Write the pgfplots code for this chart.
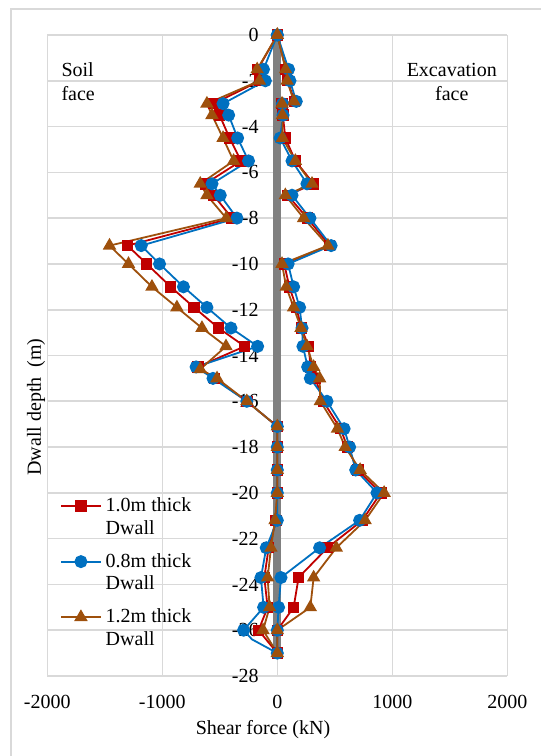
\documentclass[border=0pt]{standalone}
\usepackage{fontspec}
\setmainfont{Liberation Serif}
\usepackage{pgfplots}
\pgfplotsset{compat=1.18}
\definecolor{cred}{RGB}{192,0,0}
\definecolor{cblue}{RGB}{0,112,192}
\definecolor{cbrown}{RGB}{158,80,12}
\definecolor{cgrid}{RGB}{217,217,217}
\definecolor{cwall}{RGB}{128,128,128}
\begin{document}
\begin{tikzpicture}
\useasboundingbox (-23.65pt,-40pt) rectangle (246.85pt,338pt);
\draw[cgrid, line width=0.6pt] (-18.15pt,-60pt) -- (-18.15pt,333.5pt) -- (280pt,333.5pt);
\begin{axis}[
 at={(0,0)}, anchor=south west,
 scale only axis, width=230pt, height=320.5pt,
 xmin=-2000, xmax=2000, ymin=-28, ymax=0,
 xtick={-2000,-1000,0,1000,2000}, ytick={-28,-26,...,0},
 grid=major, grid style={cgrid, line width=0.8pt},
 axis line style={draw=none}, major tick length=0pt,
 tick label style={font=\fontsize{10}{12}\selectfont},
 /pgf/number format/assume math mode=true,
 /pgf/number format/1000 sep={},
 xticklabel style={yshift=-6pt},
 yticklabel style={anchor=east, xshift=109.2pt},
 label style={font=\fontsize{10}{12}\selectfont},
 xlabel={Shear force (kN)},
 xlabel style={at={(axis description cs:0.469,-0.0842)}, anchor=center},
 ylabel={Dwall depth~ (m)},
 ylabel style={at={(axis description cs:-0.0246,0.4197)}, anchor=center},
 legend cell align=left,
 legend style={at={(axis description cs:0.027,0.285)}, anchor=north west, draw=none, fill=none,
   font=\fontsize{10}{11.3}\selectfont, row sep=4pt, inner sep=0pt,
   cells={align=left, inner xsep=1pt}},
 legend image code/.code={\draw[#1] (0cm,5.65pt) -- (0.7cm,5.65pt); \draw[#1] plot coordinates {(0.35cm,5.65pt)};},
]
\addplot[cwall, line width=4pt, forget plot] coordinates {(0,0) (0,-27)};

\addplot[cred, line width=0.9pt, mark=square*, mark size=2.4pt, mark options={solid, fill=cred}] coordinates {
(0,0) (-170,-1.5) (-150,-2) (-554,-3) (-502,-3.5) (-415,-4.5) (-316,-5.5) (-626,-6.5) (-554,-7) (-394,-8)
(-1302,-9.2) (-1135,-10) (-927,-11) (-724,-11.9) (-511,-12.8) (-284,-13.6) (-690,-14.5) (-545,-15) (-265,-16)
(0,-17.1) (0,-18) (0,-19) (0,-20) (-10,-21.2) (-75,-22.4) (-113,-23.7) (-84,-25) (-163,-26) (0,-27)
(0,-26) (142,-25) (185,-23.7) (436,-22.4) (740,-21.2) (900,-20) (700,-19) (610,-18) (550,-17.2) (400,-16)
(330,-15) (290,-14.5) (272,-13.6) (210,-12.8) (165,-11.9) (105,-11) (60,-10) (455,-9.2) (261,-8) (90,-7)
(316,-6.5) (157,-5.5) (70,-4.5) (48,-3.5) (42,-3.0) (152,-2.9) (88,-2) (75,-1.5) (0,0)};
\addlegendentry{1.0m thick\\Dwall}

\addplot[cblue, line width=0.9pt, mark=*, mark size=2.8pt, mark options={solid, fill=cblue},
  mark indices={1,2,...,28,30,31,...,59}] coordinates {
(0,0) (-120,-1.5) (-104,-2) (-472,-3) (-423,-3.5) (-345,-4.5) (-250,-5.5) (-568,-6.5) (-496,-7) (-351,-8)
(-1183,-9.2) (-1024,-10) (-816,-11) (-612,-11.9) (-403,-12.8) (-171,-13.6) (-706,-14.5) (-559,-15) (-265,-16)
(0,-17.1) (0,-18) (0,-19) (0,-20) (0,-21.2) (-96,-22.4) (-142,-23.7) (-119,-25) (-293,-26) (-220,-26.4) (0,-27)
(0,-26) (11,-25) (32,-23.7) (368,-22.4) (716,-21.2) (867,-20) (682,-19) (629,-18) (581,-17.2) (432,-16)
(287,-15) (264,-14.5) (223,-13.6) (215,-12.8) (194,-11.9) (142,-11) (94,-10) (468,-9.2) (284,-8) (128,-7)
(258,-6.5) (128,-5.5) (25,-4.5) (50,-3.5) (45,-3.0) (165,-2.9) (110,-2) (98,-1.5) (0,0)};
\addlegendentry{0.8m thick\\Dwall}

\addplot[cbrown, line width=0.9pt, mark=triangle*, mark size=3pt, mark options={solid, fill=cbrown}] coordinates {
(0,0) (-175,-1.5) (-155,-2) (-612,-3) (-568,-3.5) (-472,-4.5) (-380,-5.5) (-670,-6.5) (-612,-7) (-444,-8)
(-1459,-9.2) (-1294,-10) (-1090,-11) (-873,-11.9) (-655,-12.8) (-446,-13.6) (-670,-14.6) (-524,-15) (-265,-16)
(0,-17.1) (0,-18) (0,-19) (0,-20) (-20,-21.2) (-55,-22.4) (-84,-23.7) (-67,-25) (-124,-26) (0,-27)
(0,-26) (287,-25) (316,-23.7) (513,-22.4) (764,-21.2) (929,-20) (720,-19) (590,-18) (523,-17.2) (374,-16)
(368,-15) (316,-14.5) (258,-13.6) (206,-12.8) (142,-11.9) (77,-11) (41,-10) (440,-9.2) (229,-8) (70,-7)
(302,-6.5) (157,-5.5) (45,-4.5) (45,-3.5) (41,-3.0) (145,-2.9) (85,-2) (72,-1.5) (0,0)};
\addlegendentry{1.2m thick\\Dwall}

\node[anchor=base west, inner sep=0pt, font=\fontsize{10}{12}\selectfont] at (axis cs:-1880,-1.82) {Soil};
\node[anchor=base west, inner sep=0pt, font=\fontsize{10}{12}\selectfont] at (axis cs:-1880,-2.84) {face};
\node[anchor=base, inner sep=0pt, font=\fontsize{10}{12}\selectfont] at (axis cs:1517,-1.82) {Excavation};
\node[anchor=base, inner sep=0pt, font=\fontsize{10}{12}\selectfont] at (axis cs:1517,-2.84) {face};
\end{axis}
\end{tikzpicture}
\end{document}
